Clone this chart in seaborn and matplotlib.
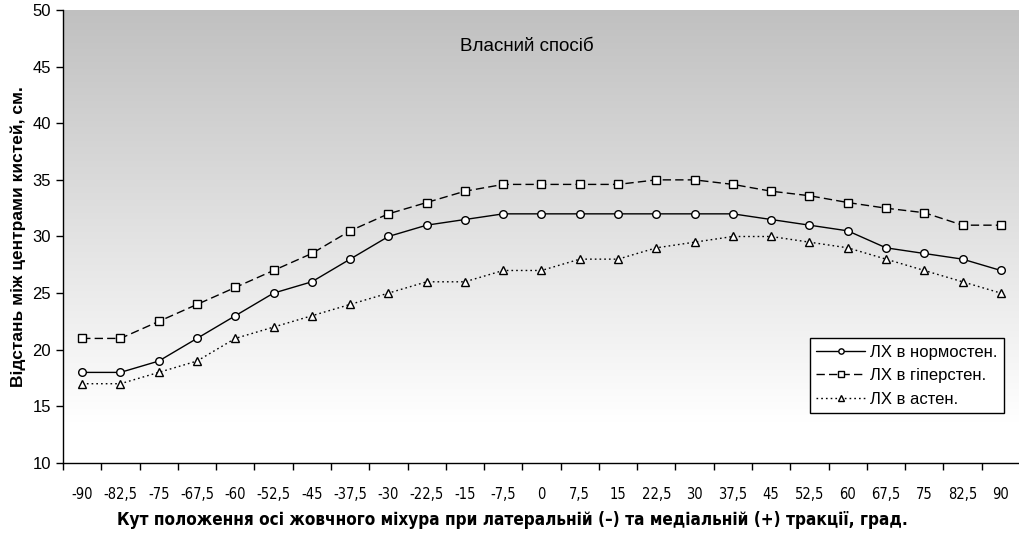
import numpy as np
import pandas as pd
import matplotlib
matplotlib.use("Agg")
import matplotlib.pyplot as plt
import seaborn as sns

# angles of gallbladder axis, degrees
angles = [-90, -82.5, -75, -67.5, -60, -52.5, -45, -37.5, -30, -22.5, -15, -7.5, 0,
          7.5, 15, 22.5, 30, 37.5, 45, 52.5, 60, 67.5, 75, 82.5, 90]
tick_labels = [str(a).replace(".", ",") if a % 1 else str(int(a)) for a in angles]

normo = [18, 18, 19, 21, 23, 25, 26, 28, 30, 31, 31.5, 32, 32, 32, 32, 32, 32, 32,
         31.5, 31, 30.5, 29, 28.5, 28, 27]
hyper = [21, 21, 22.5, 24, 25.5, 27, 28.5, 30.5, 32, 33, 34, 34.6, 34.6, 34.6, 34.6,
         35, 35, 34.6, 34, 33.6, 33, 32.5, 32.1, 31, 31]
asthen = [17, 17, 18, 19, 21, 22, 23, 24, 25, 26, 26, 27, 27, 28, 28, 29, 29.5, 30,
          30, 29.5, 29, 28, 27, 26, 25]

names = ["ЛХ в нормостен.", "ЛХ в гіперстен.", "ЛХ в астен."]

df = pd.DataFrame({
    "angle": angles * 3,
    "value": normo + hyper + asthen,
    "series": [names[0]] * 25 + [names[1]] * 25 + [names[2]] * 25,
})

sns.set_style("white")
plt.rcParams["font.family"] = ["Liberation Sans", "DejaVu Sans"]
for k in ["text.color", "axes.labelcolor", "xtick.color", "ytick.color"]:
    plt.rcParams[k] = "black"
narrow = dict(family="DejaVu Sans", fontstretch="condensed")

fig = plt.figure(figsize=(10.2, 5.37), dpi=100)
ax = fig.add_axes([63 / 1020, 1 - 463 / 537, 1 - 63 / 1020, (463 - 10) / 537])

# grey-to-white background gradient
grad = np.linspace(0, 1, 256).reshape(-1, 1)
cmap = matplotlib.colors.LinearSegmentedColormap.from_list("g", ["#c0c0c0", "#ffffff"])
ax.imshow(grad, extent=(-100, 100, 13.5, 50), cmap=cmap, aspect="auto", zorder=0)

styles = {names[0]: ("-", "o"), names[1]: ((0, (6, 3)), "s"), names[2]: ((0, (1.2, 2.2)), "^")}
for n in names:
    ls, mk = styles[n]
    sns.lineplot(data=df[df["series"] == n], x="angle", y="value", ax=ax,
                 color="black", lw=1, linestyle=ls, marker=mk, markersize=5.5,
                 markerfacecolor="white", markeredgecolor="black", markeredgewidth=1,
                 label=n, zorder=3)

ax.set_xlim(-93.75, 93.75 - 0.36 * 7.5)
ax.set_ylim(10, 50)
ax.set_yticks(range(10, 51, 5))
ax.set_xticks(angles)
ax.set_xticklabels(tick_labels, fontsize=10.5, **narrow)
ax.set_xticks([a + 3.75 for a in [-97.5] + angles], minor=True)
ax.tick_params(axis="x", which="major", length=0, pad=17)
ax.tick_params(axis="x", which="minor", length=5, width=1, color="black", direction="out", bottom=True)
ax.tick_params(axis="y", length=5, width=1, color="black", direction="out", left=True, labelsize=12)

for s in ["top", "right"]:
    ax.spines[s].set_visible(False)
for s in ["left", "bottom"]:
    ax.spines[s].set_color("black")
    ax.spines[s].set_linewidth(1)

ax.set_ylabel("Відстань між центрами кистей, см.", fontsize=12.5, fontweight="bold", labelpad=5)
ax.set_xlabel("Кут положення осі жовчного міхура при латеральній (–) та медіальній (+) тракції, град.",
              fontsize=12.3, fontweight="bold", **narrow)
# label is centred on the figure, not on the plot area
ax.xaxis.set_label_coords((512 - 63) / 957, -0.105)

ax.text(0.485, 0.92, "Власний спосіб", transform=ax.transAxes, ha="center", va="center", fontsize=13.5)

leg = ax.legend(loc="lower right", bbox_to_anchor=(0.983, 0.11), fontsize=12, frameon=True,
                fancybox=False, edgecolor="black", handlelength=2.9, borderpad=0.4,
                labelspacing=0.5, handletextpad=0.3, markerscale=0.7, borderaxespad=0)
leg.get_frame().set_linewidth(1)
leg.get_frame().set_facecolor("white")
leg.get_frame().set_alpha(1)

fig.savefig("out.png", dpi=100)
